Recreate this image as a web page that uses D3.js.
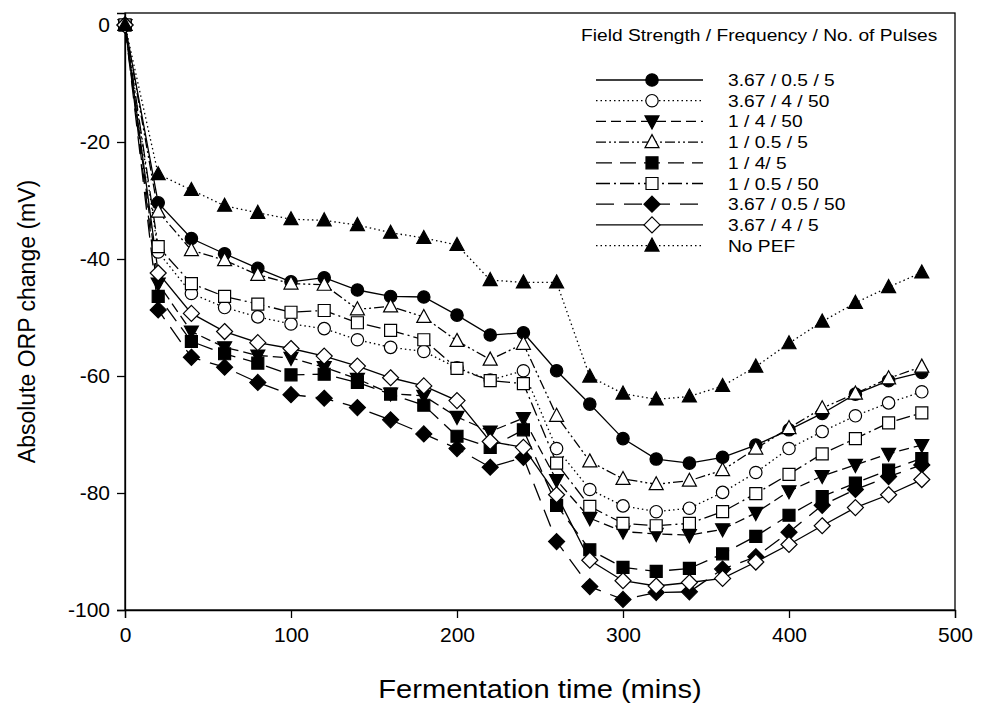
<!DOCTYPE html>
<html>
<head>
<meta charset="UTF-8">
<title>ORP change</title>
<script src="https://cdn.jsdelivr.net/npm/d3@7"></script>
<style>
  body { margin: 0; background: #fff; }
  text { font-family: "Liberation Sans", Arial, sans-serif; fill: #000; }
</style>
</head>
<body>
<script>
// time points (mins)
var times = [0, 20, 40, 60, 80, 100, 120, 140, 160, 180, 200, 220, 240,
             260, 280, 300, 320, 340, 360, 380, 400, 420, 440, 460, 480];

var labels = ["3.67 / 0.5 / 5", "3.67 / 4 / 50", "1 / 4 / 50", "1 / 0.5 / 5", "1 / 4/  5",
              "1 / 0.5 / 50", "3.67 / 0.5 / 50", "3.67 / 4 / 5", "No PEF"];

var s1 = [0, -30.4, -36.5, -39.1, -41.6, -43.9, -43.2, -45.3, -46.4, -46.5, -49.6, -53.0, -52.6,
          -59.1, -64.8, -70.7, -74.2, -74.9, -73.9, -71.8, -69.2, -66.4, -63.1, -60.8, -59.4];
var s2 = [0, -38.8, -45.9, -48.3, -49.9, -51.1, -51.9, -53.8, -55.1, -55.8, -58.6, -60.7, -59.1,
          -72.4, -79.4, -82.2, -83.2, -82.6, -79.9, -76.5, -72.4, -69.5, -66.8, -64.6, -62.7];
var s3 = [0, -44.2, -52.4, -55.1, -56.5, -56.9, -58.5, -60.5, -63.0, -63.4, -67.0, -69.5, -67.2,
          -77.8, -84.3, -86.6, -87.0, -87.2, -86.2, -83.4, -79.7, -77.1, -75.2, -73.3, -71.8];
var s4 = [0, -31.9, -38.5, -40.2, -42.7, -44.2, -44.4, -48.6, -48.1, -49.9, -54.0, -57.2, -54.5,
          -66.8, -74.6, -77.6, -78.5, -77.9, -76.1, -72.4, -68.9, -65.5, -63.0, -60.4, -58.4];
var s5 = [0, -46.4, -54.1, -56.2, -57.8, -59.8, -59.7, -61.1, -63.1, -65.0, -70.3, -72.2, -69.2,
          -82.1, -89.7, -92.7, -93.4, -92.9, -90.4, -87.4, -83.8, -80.6, -78.3, -76.1, -74.1];
var s6 = [0, -37.9, -44.2, -46.4, -47.7, -49.1, -48.8, -50.9, -52.2, -53.8, -58.7, -60.8, -61.3,
          -74.9, -82.3, -85.2, -85.6, -85.2, -83.2, -80.1, -76.8, -73.3, -70.7, -68.0, -66.3];
var s7 = [0, -48.7, -56.8, -58.5, -61.1, -63.2, -63.8, -65.4, -67.5, -69.9, -72.4, -75.6, -73.9,
          -88.3, -96.0, -98.2, -97.0, -96.9, -93.0, -90.9, -86.7, -82.1, -79.4, -77.2, -75.2];
var s8 = [0, -42.4, -49.3, -52.4, -54.3, -55.3, -56.6, -58.3, -60.3, -61.7, -64.2, -71.2, -72.2,
          -80.3, -91.5, -95.0, -95.9, -95.3, -94.6, -91.8, -88.8, -85.6, -82.5, -80.3, -77.7];
var s9 = [0, -25.5, -28.2, -30.9, -32.1, -33.2, -33.4, -34.2, -35.5, -36.4, -37.6, -43.6, -44.0,
          -44.0, -60.1, -63.0, -64.0, -63.5, -61.7, -58.4, -54.4, -50.7, -47.5, -44.8, -42.3];

var xTicks = [0, 100, 200, 300, 400, 500];
var yTicks = [0, -20, -40, -60, -80, -100];

var allSeries = [s1, s2, s3, s4, s5, s6, s7, s8, s9];
// marker shape, filled?, dash pattern
var styles = [
  {shape: "circle", fill: true,  dash: null},
  {shape: "circle", fill: false, dash: "1.5,3"},
  {shape: "tridown", fill: true, dash: "10,5"},
  {shape: "triup", fill: false,  dash: "10,3,2,3,2,3"},
  {shape: "square", fill: true,  dash: "16,8"},
  {shape: "square", fill: false, dash: "14,4,2,4"},
  {shape: "diamond", fill: true, dash: "18,10"},
  {shape: "diamond", fill: false, dash: null},
  {shape: "triup", fill: true,   dash: "1.5,3"}
];

var W = 989, H = 703;
var margin = {top: 13, right: 34, bottom: 93, left: 125};

var svg = d3.select("body").append("svg")
    .attr("width", W)
    .attr("height", H);

var x = d3.scaleLinear().domain([0, 500]).range([margin.left, W - margin.right]);
var y = d3.scaleLinear().domain([-100, 2.05]).range([H - margin.bottom, margin.top]);

function symbolPath(shape) {
  if (shape === "circle") return d3.symbol().type(d3.symbolCircle).size(Math.PI * 6.2 * 6.2)();
  if (shape === "square") return d3.symbol().type(d3.symbolSquare).size(12 * 12)();
  if (shape === "diamond") return "M0,-8L8,0L0,8L-8,0Z";
  if (shape === "triup") return "M0,-7.5L7,5.5L-7,5.5Z";
  if (shape === "tridown") return "M0,7.5L7,-5.5L-7,-5.5Z";
}

// frame
svg.append("rect")
    .attr("x", x(0)).attr("y", y(2.05))
    .attr("width", x(500) - x(0)).attr("height", y(-100) - y(2.05))
    .attr("fill", "none").attr("stroke", "#000").attr("stroke-width", 1.3);

var plain = function(d) { return String(d); };   // plain hyphen, not U+2212

var xAxis = svg.append("g")
    .attr("transform", "translate(0," + y(-100) + ")")
    .call(d3.axisBottom(x).tickValues(xTicks).tickFormat(plain).tickSize(8).tickPadding(9));
var yAxis = svg.append("g")
    .attr("transform", "translate(" + x(0) + ",0)")
    .call(d3.axisLeft(y).tickValues(yTicks).tickFormat(plain).tickSize(8).tickPadding(7));

[xAxis, yAxis].forEach(function(a) {
  a.select(".domain").attr("stroke-width", 1.3);
  a.selectAll(".tick line").attr("stroke-width", 1.3);
  a.selectAll(".tick text").attr("font-size", 21)
      .attr("font-family", "Liberation Sans, Arial, sans-serif");
});

svg.append("text")
    .attr("transform", "translate(" + ((x(0) + x(500)) / 2) + ",698) scale(1.12,1)")
    .attr("text-anchor", "middle")
    .attr("font-size", 26)
    .text("Fermentation time (mins)");

svg.append("text")
    .attr("transform", "translate(35," + (y(-50) + 4) + ") rotate(-90)")
    .attr("text-anchor", "middle")
    .attr("font-size", 23)
    .text("Absolute ORP change (mV)");

var line = d3.line()
    .x(function(d, i) { return x(times[i]); })
    .y(function(d) { return y(d); });

var plot = svg.append("g");

allSeries.forEach(function(s, k) {
  plot.append("path")
      .datum(s)
      .attr("d", line)
      .attr("fill", "none")
      .attr("stroke", "#000")
      .attr("stroke-width", 1.3)
      .attr("stroke-dasharray", styles[k].dash);
});

allSeries.forEach(function(s, k) {
  plot.selectAll(".m" + k)
      .data(s)
      .enter().append("path")
      .attr("class", "m" + k)
      .attr("transform", function(d, i) { return "translate(" + x(times[i]) + "," + y(d) + ")"; })
      .attr("d", symbolPath(styles[k].shape))
      .attr("fill", styles[k].fill ? "#000" : "#fff")
      .attr("stroke", "#000")
      .attr("stroke-width", 1.2);
});

// legend (text slightly stretched horizontally like the original export)
var legend = svg.append("g");
legend.append("text")
    .attr("transform", "translate(581,41) scale(1.13,1)")
    .attr("font-size", 17)
    .text("Field Strength / Frequency / No. of Pulses");

labels.forEach(function(lab, k) {
  var ly = 80 + k * 20.7;
  legend.append("line")
      .attr("x1", 596).attr("x2", 703)
      .attr("y1", ly).attr("y2", ly)
      .attr("stroke", "#000").attr("stroke-width", 1.3)
      .attr("stroke-dasharray", styles[k].dash);
  legend.append("path")
      .attr("transform", "translate(652," + ly + ")")
      .attr("d", symbolPath(styles[k].shape))
      .attr("fill", styles[k].fill ? "#000" : "#fff")
      .attr("stroke", "#000").attr("stroke-width", 1.2);
  legend.append("text")
      .attr("transform", "translate(728," + (ly + 6) + ") scale(1.13,1)")
      .attr("font-size", 17)
      .text(lab);
});
</script>
</body>
</html>
